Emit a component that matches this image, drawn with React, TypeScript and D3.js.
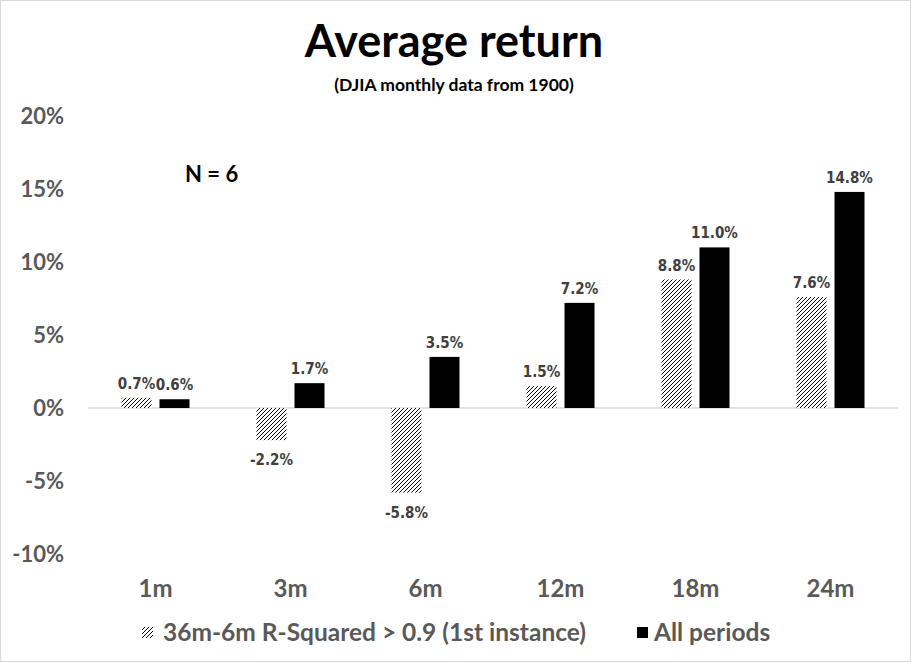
import { useEffect, useRef } from 'react';
import * as d3 from 'd3';

const categories = ['1m', '3m', '6m', '12m', '18m', '24m'];
const rSquaredSeries = [0.7, -2.2, -5.8, 1.5, 8.8, 7.6];
const allPeriodsSeries = [0.6, 1.7, 3.5, 7.2, 11.0, 14.8];
const yTicks = [-10, -5, 0, 5, 10, 15, 20];
const seriesNames = ['36m-6m R-Squared > 0.9 (1st instance)', 'All periods'];

const App = () => {
    const ref = useRef(null);

    useEffect(() => {
        const svg = d3.select(ref.current);
        svg.selectAll('*').remove();

        const width = 911;
        const height = 662;
        const axisFont = 'Lato, "DejaVu Sans", sans-serif';
        const labelFont = '"DejaVu Sans Condensed", "DejaVu Sans", sans-serif';

        const x = d3.scaleBand().domain(categories).range([88, 898]);
        const y = d3.scaleLinear().domain([-10, 20]).range([554, 116]);
        const barW = 30;
        const gap = 8;

        // hatch pattern
        const defs = svg.append('defs');
        const pat = defs.append('pattern')
            .attr('id', 'hatch')
            .attr('patternUnits', 'userSpaceOnUse')
            .attr('width', 4)
            .attr('height', 4);
        pat.append('rect').attr('width', 4).attr('height', 4).attr('fill', 'white');
        pat.append('path')
            .attr('d', 'M-1,1 l2,-2 M0,4 l4,-4 M3,5 l2,-2')
            .attr('stroke', 'black')
            .attr('stroke-width', 1);

        // background + border
        svg.append('rect')
            .attr('x', 0.5).attr('y', 0.5)
            .attr('width', width - 1).attr('height', height - 1)
            .attr('fill', 'white')
            .attr('stroke', '#d9d9d9');

        // titles
        svg.append('text')
            .attr('x', 454).attr('y', 57)
            .attr('text-anchor', 'middle')
            .style('font', `bold 45px ${axisFont}`)
            .attr('fill', 'black')
            .text('Average return');
        svg.append('text')
            .attr('x', 454).attr('y', 91)
            .attr('text-anchor', 'middle')
            .style('font', `bold 17.5px ${axisFont}`)
            .attr('fill', 'black')
            .text('(DJIA monthly data from 1900)');
        svg.append('text')
            .attr('x', 185).attr('y', 182)
            .style('font', `bold 22px ${axisFont}`)
            .attr('fill', 'black')
            .text('N = 6');

        // y axis labels
        svg.append('g')
            .selectAll('text')
            .data(yTicks)
            .join('text')
            .attr('x', 64)
            .attr('y', d => y(d) + 8)
            .attr('text-anchor', 'end')
            .style('font', `bold 22px ${axisFont}`)
            .attr('fill', '#595959')
            .text(d => `${d}%`);

        // zero line
        svg.append('line')
            .attr('x1', 88).attr('x2', 898)
            .attr('y1', y(0)).attr('y2', y(0))
            .attr('stroke', '#d9d9d9')
            .attr('stroke-width', 1.5);

        const center = (c) => x(c) + x.bandwidth() / 2;

        // bars
        const rows = categories.map((c, i) => ({ c, a: rSquaredSeries[i], b: allPeriodsSeries[i] }));
        const g = svg.append('g');
        g.selectAll('rect.a')
            .data(rows)
            .join('rect')
            .attr('class', 'a')
            .attr('x', d => center(d.c) - gap / 2 - barW)
            .attr('width', barW)
            .attr('y', d => Math.min(y(d.a), y(0)))
            .attr('height', d => Math.abs(y(d.a) - y(0)))
            .attr('fill', 'url(#hatch)');
        g.selectAll('rect.b')
            .data(rows)
            .join('rect')
            .attr('class', 'b')
            .attr('x', d => center(d.c) + gap / 2)
            .attr('width', barW)
            .attr('y', d => Math.min(y(d.b), y(0)))
            .attr('height', d => Math.abs(y(d.b) - y(0)))
            .attr('fill', 'black');

        // data labels
        const labelY = (v) => v >= 0 ? y(v) - 9 : y(v) + 25;
        g.selectAll('text.la')
            .data(rows)
            .join('text')
            .attr('class', 'la')
            .attr('x', d => center(d.c) - gap / 2 - barW / 2)
            .attr('y', d => labelY(d.a))
            .attr('text-anchor', 'middle')
            .style('font', `bold 15px ${labelFont}`)
            .attr('fill', '#404040')
            .text(d => `${d.a.toFixed(1)}%`);
        g.selectAll('text.lb')
            .data(rows)
            .join('text')
            .attr('class', 'lb')
            .attr('x', d => center(d.c) + gap / 2 + barW / 2)
            .attr('y', d => labelY(d.b))
            .attr('text-anchor', 'middle')
            .style('font', `bold 15px ${labelFont}`)
            .attr('fill', '#404040')
            .text(d => `${d.b.toFixed(1)}%`);

        // category labels
        svg.append('g')
            .selectAll('text')
            .data(categories)
            .join('text')
            .attr('x', d => center(d))
            .attr('y', 597)
            .attr('text-anchor', 'middle')
            .style('font', `bold 24px ${axisFont}`)
            .attr('fill', '#595959')
            .text(d => d);

        // legend
        const leg = svg.append('g');
        leg.append('rect')
            .attr('x', 142).attr('y', 627).attr('width', 11).attr('height', 11)
            .attr('fill', 'url(#hatch)');
        leg.append('text')
            .attr('x', 163).attr('y', 641)
            .style('font', `bold 24.5px ${axisFont}`)
            .attr('fill', '#595959')
            .text(seriesNames[0]);
        leg.append('rect')
            .attr('x', 637).attr('y', 627).attr('width', 11).attr('height', 11)
            .attr('fill', 'black');
        leg.append('text')
            .attr('x', 654).attr('y', 641)
            .style('font', `bold 24.5px ${axisFont}`)
            .attr('fill', '#595959')
            .text(seriesNames[1]);
    }, []);

    return (
        <svg ref={ref} width={911} height={662} style={{ position: 'absolute', left: 0, top: 0 }} />
    );
};

export default App;
